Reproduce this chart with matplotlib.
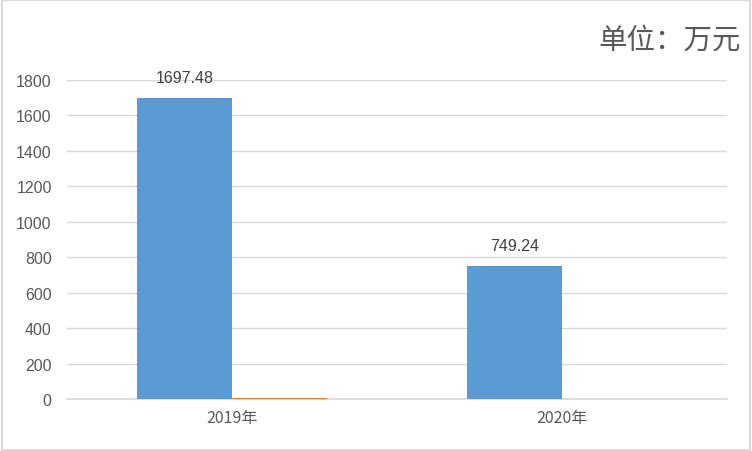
import matplotlib.pyplot as plt
import numpy as np
from matplotlib.patches import Rectangle

plt.rcParams['font.family'] = ['Liberation Sans', 'Noto Sans CJK SC', 'DejaVu Sans']

categories = ['2019年', '2020年']
series_a = [1697.48, 749.24]
series_b = [4, 0]
labels_a = ['1697.48', '749.24']
yticks = [0, 200, 400, 600, 800, 1000, 1200, 1400, 1600, 1800]

text_color = '#595959'
grid_color = '#d9d9d9'

fig = plt.figure(figsize=(7.52, 4.52), dpi=100)
ax = fig.add_axes([67 / 752, 52 / 452, 660 / 752, 319 / 452])

x = np.arange(len(categories))
w = 0.288
bars = ax.bar(x - w / 2, series_a, width=w, color='#5b9bd5', zorder=3)
ax.bar(x + w / 2, series_b, width=w, color='#ed7d31', zorder=3)

for b, lab in zip(bars, labels_a):
    ax.text(b.get_x() + b.get_width() / 2, b.get_height() + 75, lab,
            ha='center', va='bottom', fontsize=11.5, color='#404040')

ax.set_xlim(-0.5, 1.5)
ax.set_ylim(0, 1800)
ax.set_yticks(yticks)
ax.set_xticks(x)
ax.set_xticklabels(categories, family=['Noto Sans CJK SC'], fontsize=11)
ax.tick_params(axis='both', length=0, labelsize=11.5, colors=text_color)
ax.tick_params(axis='y', pad=11)
ax.tick_params(axis='x', pad=7)
ax.grid(axis='y', color=grid_color, lw=1, zorder=0)
for s in ['top', 'right', 'left']:
    ax.spines[s].set_visible(False)
ax.spines['bottom'].set_color(grid_color)
ax.spines['bottom'].set_linewidth(1.2)

fig.text(741 / 752, 1 - 41 / 452, '单位：万元', ha='right', va='center',
         fontsize=20.5, color=text_color, family=['Noto Sans CJK SC'])

fig.patches.append(Rectangle((0.002, 0.002), 0.996, 0.995, transform=fig.transFigure,
                             fill=False, edgecolor=grid_color, lw=1.5))

fig.savefig('out.png', dpi=100)
